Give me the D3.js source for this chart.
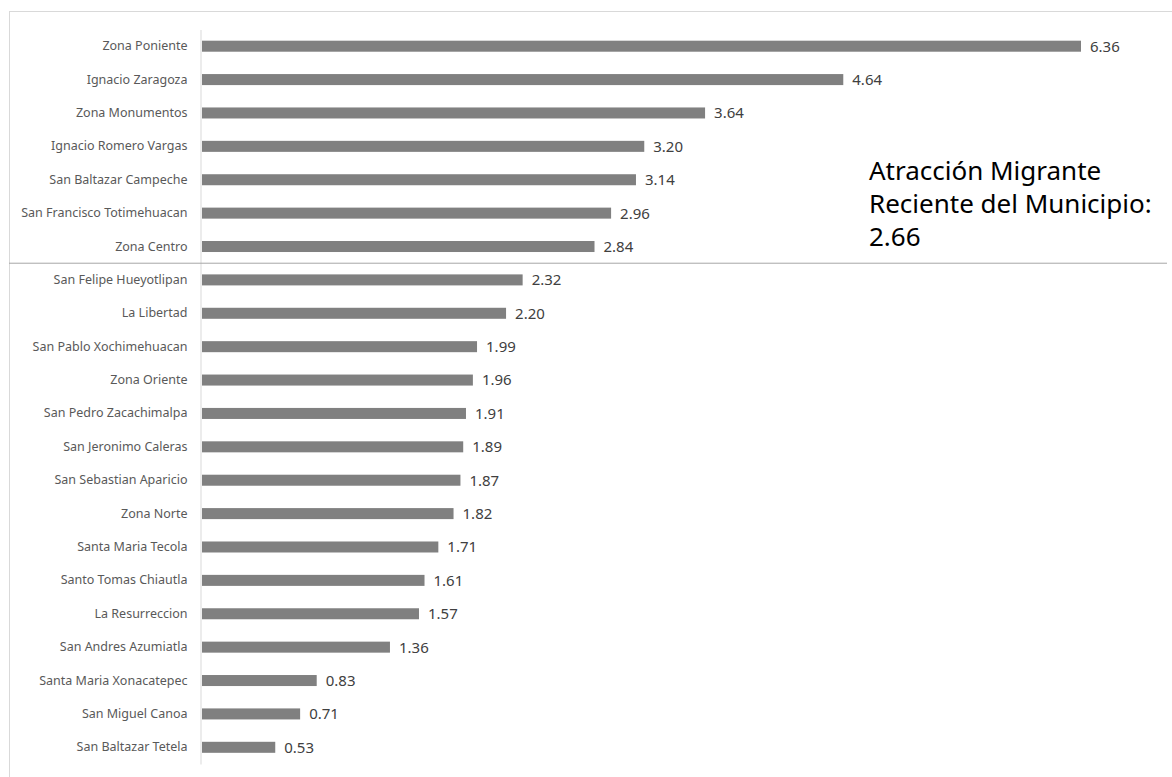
<!DOCTYPE html>
<html><head><meta charset="utf-8">
<script src="https://cdn.jsdelivr.net/npm/d3@7"></script>
<style>body{margin:0;background:#fff}svg{display:block}</style>
</head><body>
<script>
const categories = ["Zona Poniente","Ignacio Zaragoza","Zona Monumentos","Ignacio Romero Vargas","San Baltazar Campeche","San Francisco Totimehuacan","Zona Centro","San Felipe Hueyotlipan","La Libertad","San Pablo Xochimehuacan","Zona Oriente","San Pedro Zacachimalpa","San Jeronimo Caleras","San Sebastian Aparicio","Zona Norte","Santa Maria Tecola","Santo Tomas Chiautla","La Resurreccion","San Andres Azumiatla","Santa Maria Xonacatepec","San Miguel Canoa","San Baltazar Tetela"];
const values = [6.36,4.64,3.64,3.20,3.14,2.96,2.84,2.32,2.20,1.99,1.96,1.91,1.89,1.87,1.82,1.71,1.61,1.57,1.36,0.83,0.71,0.53];
const municipio = 2.66;
const annotation = ["Atracción Migrante","Reciente del Municipio:","2.66"];

const W=1172,H=777;
const svg=d3.select("body").append("svg").attr("width",W).attr("height",H);
svg.append("rect").attr("x",9.5).attr("y",11.5).attr("width",W).attr("height",H).attr("fill","none").attr("stroke","#d9d9d9");
const x=d3.scaleLinear().domain([0,6.36]).range([202,1081]);
const y=d3.scaleBand().domain(categories).range([29.5,764]).paddingInner(0.67).paddingOuter(0.335);
const font="'Noto Sans', 'Open Sans', sans-serif";
svg.selectAll("rect.bar").data(categories).join("rect").attr("class","bar")
  .attr("x",x(0)).attr("y",d=>y(d)).attr("height",y.bandwidth())
  .attr("width",(d,i)=>x(values[i])-x(0)).attr("fill","#808080");
svg.selectAll("text.val").data(categories).join("text").attr("class","val")
  .attr("x",(d,i)=>x(values[i])+9).attr("y",d=>y(d)+y.bandwidth()/2).attr("dy","0.36em")
  .attr("font-family",font).attr("font-size",15).attr("fill","#404040")
  .text((d,i)=>values[i].toFixed(2));
const ax=svg.append("g").attr("transform",`translate(${x(0)-1.5},0)`).call(d3.axisLeft(y).tickSize(0).tickPadding(13));
ax.select(".domain").attr("stroke","#d9d9d9");
ax.selectAll("text").attr("font-family",font).attr("font-size",12.5).attr("fill","#595959");
const sepY=(y("Zona Centro")+y.bandwidth()+y("San Felipe Hueyotlipan"))/2;
svg.append("line").attr("x1",9).attr("x2",1167).attr("y1",sepY).attr("y2",sepY).attr("stroke","#a6a6a6").attr("stroke-width",1);
svg.append("text").attr("font-family",font).attr("font-size",26).attr("fill","#000")
  .selectAll("tspan").data(annotation).join("tspan").attr("x",869).attr("y",(d,i)=>180+i*33).text(d=>d);
</script>
</body></html>
